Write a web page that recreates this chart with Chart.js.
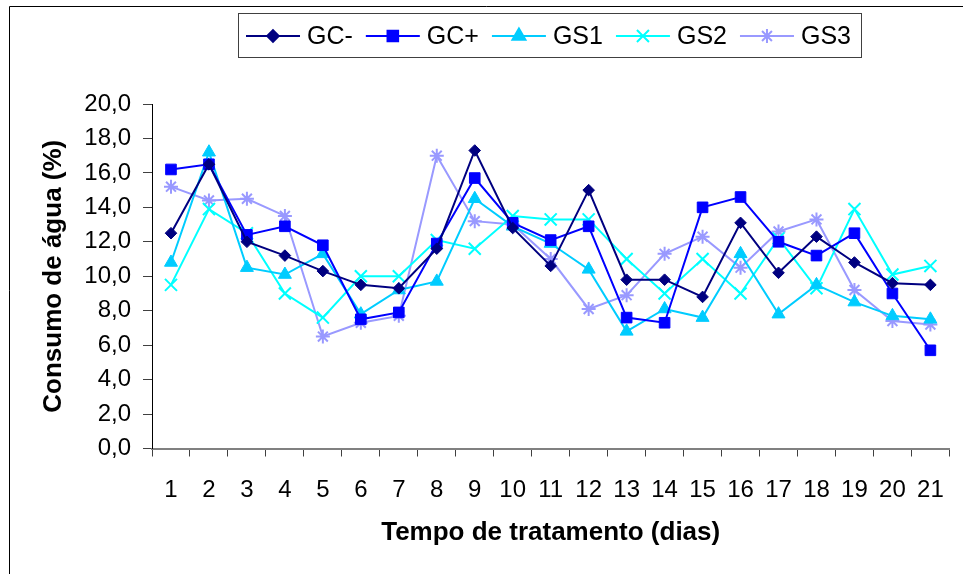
<!DOCTYPE html>
<html>
<head>
<meta charset="utf-8">
<script src="https://cdn.jsdelivr.net/npm/chart.js@4.4.0/dist/chart.umd.min.js"></script>
<style>
  html, body { margin: 0; padding: 0; background: #fff; }
  #wrap { width: 963px; height: 574px; }
</style>
</head>
<body>
<div id="wrap"><canvas id="grafico" width="963" height="574"></canvas></div>
<script>
// dias de tratamento
const dias = ['1','2','3','4','5','6','7','8','9','10','11','12','13','14','15','16','17','18','19','20','21'];

// consumo de agua (%) por grupo
const gcMenos = [12.5, 16.5, 12.0, 11.2, 10.3, 9.5, 9.3, 11.6, 17.3, 12.8, 10.6, 15.0, 9.8, 9.8, 8.8, 13.1, 10.2, 12.3, 10.8, 9.6, 9.5];
const gcMais  = [16.2, 16.5, 12.4, 12.9, 11.8, 7.5, 7.9, 11.9, 15.7, 13.1, 12.1, 12.9, 7.6, 7.3, 14.0, 14.6, 12.0, 11.2, 12.5, 9.0, 5.7];
const gs1     = [10.8, 17.2, 10.5, 10.1, 11.3, 7.8, 9.2, 9.7, 14.5, 12.9, 11.9, 10.4, 6.8, 8.1, 7.6, 11.3, 7.8, 9.5, 8.5, 7.7, 7.5];
const gs2     = [9.5, 13.9, 12.5, 9.0, 7.6, 10.0, 10.0, 12.1, 11.6, 13.5, 13.3, 13.3, 11.0, 9.0, 11.0, 9.0, 12.2, 9.3, 13.9, 10.1, 10.6];
const gs3     = [15.2, 14.4, 14.5, 13.5, 6.5, 7.3, 7.7, 17.0, 13.2, 13.0, 11.0, 8.1, 8.9, 11.3, 12.3, 10.5, 12.6, 13.3, 9.2, 7.4, 7.2];

const FONTE = "'Liberation Sans', Arial, sans-serif";

function serie(label, data, cor, estilo, raio, cruz) {
    return {
        label: label,
        data: data,
        borderColor: cor,
        backgroundColor: cor,
        borderWidth: 2,
        pointStyle: estilo,
        pointRadius: raio,
        pointBorderWidth: cruz ? 2 : 1,
        pointBackgroundColor: cor,
        pointBorderColor: cor,
        tension: 0
    };
}

// legenda desenhada a mao: linha + marcador + texto, dentro de uma caixa
const legendaExcel = {
    id: 'legendaExcel',
    afterDraw(chart) {
        const ctx = chart.ctx;
        ctx.save();
        // moldura externa (topo e esquerda)
        ctx.strokeStyle = '#000';
        ctx.lineWidth = 1;
        ctx.beginPath();
        ctx.moveTo(9.5, 574); ctx.lineTo(9.5, 6.5); ctx.lineTo(963, 6.5);
        ctx.stroke();

        // caixa da legenda
        ctx.strokeStyle = '#404040';
        ctx.strokeRect(238.5, 13.5, 623, 44);

        ctx.font = '25px ' + FONTE;
        ctx.textBaseline = 'middle';
        ctx.fillStyle = '#000';
        let x = 246;
        const y = 36;
        chart.data.datasets.forEach(ds => {
            ctx.strokeStyle = ds.borderColor;
            ctx.lineWidth = 2;
            ctx.beginPath();
            ctx.moveTo(x, y); ctx.lineTo(x + 54, y);
            ctx.stroke();
            ctx.fillStyle = ds.backgroundColor;
            Chart.helpers.drawPoint(ctx, {
                pointStyle: ds.pointStyle,
                radius: ds.pointRadius,
                borderWidth: ds.pointBorderWidth,
                rotation: 0
            }, x + 27, y);
            ctx.fillStyle = '#000';
            ctx.fillText(ds.label, x + 61, y + 1);
            x += 61 + ctx.measureText(ds.label).width + 13;
        });
        ctx.restore();
    }
};

const ctx = document.getElementById('grafico').getContext('2d');
new Chart(ctx, {
    type: 'line',
    data: {
        labels: dias,
        datasets: [
            serie('GC-', gcMenos, '#000080', 'rectRot', 5.8, false),
            serie('GC+', gcMais, '#0000FF', 'rect', 7.5, false),
            serie('GS1', gs1, '#00CCFF', 'triangle', 7.5, false),
            serie('GS2', gs2, '#00FFFF', 'crossRot', 8.5, true),
            serie('GS3', gs3, '#9999FF', 'star', 7, true)
        ]
    },
    options: {
        responsive: false,
        animation: false,
        layout: { padding: { left: 0, top: 104, right: 11, bottom: 0 } },
        scales: {
            x: {
                offset: true,
                grid: {
                    offset: true,
                    drawOnChartArea: false,
                    drawTicks: true,
                    tickLength: 8,
                    tickColor: '#404040'
                },
                border: { display: true, color: '#808080', width: 2 },
                ticks: {
                    color: '#000',
                    font: { family: FONTE, size: 24 },
                    padding: 19,
                    maxRotation: 0,
                    autoSkip: false
                },
                title: {
                    display: true,
                    text: 'Tempo de tratamento (dias)',
                    color: '#000',
                    font: { family: FONTE, size: 26, weight: 'bold' },
                    padding: { top: 0, bottom: 26 }
                },
                afterFit: function (scale) { scale.height = 125.5; }
            },
            y: {
                min: 0,
                max: 20,
                grid: {
                    drawOnChartArea: false,
                    drawTicks: true,
                    tickLength: 9,
                    tickColor: '#404040'
                },
                border: { display: true, color: '#000', width: 1 },
                ticks: {
                    stepSize: 2,
                    color: '#000',
                    font: { family: FONTE, size: 24 },
                    padding: 12,
                    callback: function (v) { return v.toFixed(1).replace('.', ','); }
                },
                title: {
                    display: true,
                    text: 'Consumo de água (%)',
                    color: '#000',
                    font: { family: FONTE, size: 26, weight: 'bold' },
                    padding: { top: 38, bottom: 0 }
                },
                afterFit: function (scale) { scale.width = 152; }
            }
        },
        plugins: {
            legend: { display: false },
            tooltip: { enabled: false }
        }
    },
    plugins: [legendaExcel]
});
</script>
</body>
</html>
